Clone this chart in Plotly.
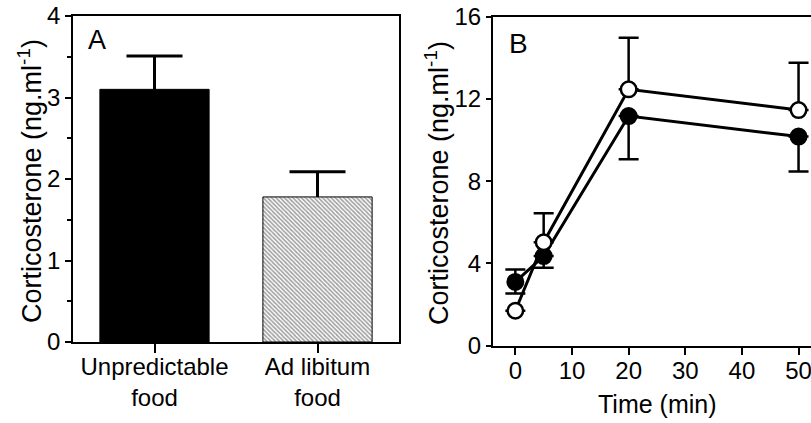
import plotly.graph_objects as go

# ---- Data ----
# Panel A
groups = ["Unpredictable<br>food", "Ad libitum<br>food"]
cort_means = [3.10, 1.78]
cort_sem = [0.41, 0.31]

# Panel B
time_min = [0, 5, 20, 50]
filled_vals = [3.10, 4.36, 11.17, 10.17]
filled_err_up = [0.60, 0.0, 0.0, 0.0]
filled_err_down = [0.56, 0.57, 2.10, 1.70]
open_vals = [1.70, 5.03, 12.47, 11.46]
open_err_up = [0.0, 1.41, 2.51, 2.30]
open_err_down = [0.0, 0.0, 0.0, 0.0]

yA_ticks = [0, 1, 2, 3, 4]
yB_ticks = [0, 4, 8, 12, 16]
xB_ticks = [0, 10, 20, 30, 40, 50]

FONT = "Liberation Sans, Arial, sans-serif"
W, H = 811, 423

fig = go.Figure()

# error bars for panel A (bars transparent; visible bars drawn on top hide the lower part)
fig.add_trace(go.Bar(
    x=groups, y=cort_means, width=0.67,
    marker=dict(color="rgba(0,0,0,0)", line=dict(width=0)),
    error_y=dict(type="data", symmetric=False, array=cort_sem,
                 arrayminus=[0.3, 0.3], color="black", thickness=3, width=28),
    xaxis="x", yaxis="y", showlegend=False, hoverinfo="skip",
))

fig.add_trace(go.Bar(
    x=groups, y=cort_means, width=0.67,
    marker=dict(
        color=["black", "white"],
        line=dict(color="black", width=1),
        pattern=dict(shape=["", "\\"], fgcolor="black", bgcolor="white",
                     size=3, solidity=0.55),
    ),
    xaxis="x", yaxis="y", showlegend=False,
))

fig.add_trace(go.Scatter(
    x=time_min, y=filled_vals, mode="lines+markers",
    line=dict(color="black", width=3),
    marker=dict(symbol="circle", size=15.5, color="black",
                line=dict(color="black", width=2.5)),
    error_y=dict(type="data", symmetric=False, array=filled_err_up,
                 arrayminus=filled_err_down, color="black", thickness=2.5, width=10),
    xaxis="x2", yaxis="y2", showlegend=False,
))

fig.add_trace(go.Scatter(
    x=time_min, y=open_vals, mode="lines+markers",
    line=dict(color="black", width=3),
    marker=dict(symbol="circle", size=15.5, color="white",
                line=dict(color="black", width=2.5)),
    error_y=dict(type="data", symmetric=False, array=open_err_up,
                 arrayminus=open_err_down, color="black", thickness=2.5, width=10),
    xaxis="x2", yaxis="y2", showlegend=False,
))

axis_common = dict(showgrid=False, zeroline=False, linecolor="black", linewidth=1.5,
                   ticks="outside", tickcolor="black", tickwidth=1.5,
                   ticklabeloverflow="allow", automargin=False,
                   tickfont=dict(family=FONT, size=24, color="black"))

fig.update_layout(
    width=W, height=H,
    margin=dict(l=0, r=0, t=0, b=0),
    paper_bgcolor="white", plot_bgcolor="white",
    barmode="overlay",
    xaxis=dict(domain=[73 / W, 399 / W], anchor="y", range=[-0.5, 1.5],
               mirror=True, ticklen=9, ticklabelstandoff=-7, **axis_common),
    yaxis=dict(domain=[(H - 342) / H, (H - 16) / H], anchor="x", range=[0, 4],
               tickvals=yA_ticks, mirror=True, ticklen=6, ticklabelstandoff=0,
               minor=dict(ticks="outside", ticklen=4, tickcolor="black", tickwidth=1.5, dtick=0.5),
               **axis_common),
    xaxis2=dict(domain=[492.7 / W, 1.0], anchor="y2", range=[-4, 52.2],
                tickvals=xB_ticks, mirror=True, ticklen=8, ticklabelstandoff=-5,
                **axis_common),
    yaxis2=dict(domain=[(H - 345.7) / H, (H - 16.7) / H], anchor="x2", range=[0, 16],
                tickvals=yB_ticks, mirror=False, ticklen=5, ticklabelstandoff=0,
                **axis_common),
)

ytitle = "Corticosterone (ng.ml<sup>-1</sup>)"
ann = [
    dict(text=ytitle, x=30 / W, y=(H - 181) / H, textangle=-90, font_size=27),
    dict(text=ytitle, x=437 / W, y=(H - 183) / H, textangle=-90, font_size=27),
    dict(text="Time (min)", x=657 / W, y=(H - 404) / H, font_size=25),
    dict(text="A", x=97 / W, y=(H - 40) / H, font_size=27),
    dict(text="B", x=518 / W, y=(H - 43) / H, font_size=28),
]
for a in ann:
    fig.add_annotation(xref="paper", yref="paper", showarrow=False,
                       xanchor="center", yanchor="middle",
                       text=a["text"], x=a["x"], y=a["y"],
                       textangle=a.get("textangle", 0),
                       font=dict(family=FONT, size=a["font_size"], color="black"))

fig.write_html("out.html")
